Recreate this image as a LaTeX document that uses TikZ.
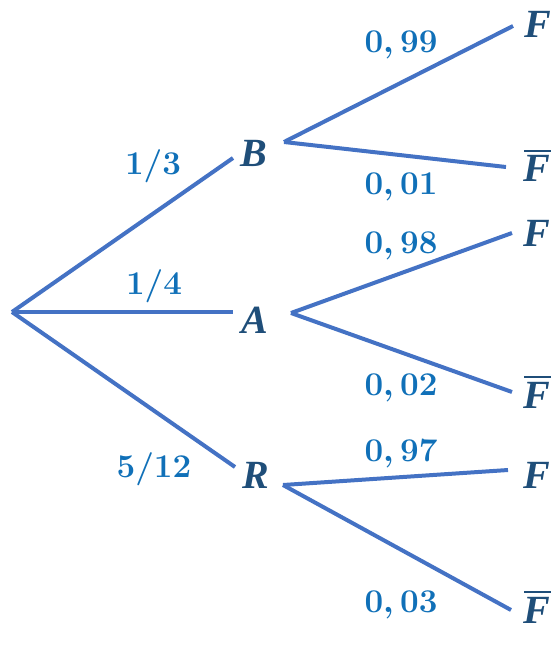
\documentclass[tikz,border=0pt]{standalone}
\usepackage{fontspec}
\usepackage{tikz}
\usetikzlibrary{positioning}
\newfontfamily\evfont{Liberation Serif}
\definecolor{branch}{HTML}{4472C4}
\definecolor{prob}{HTML}{1070B8}
\definecolor{event}{HTML}{1F4E79}
\newcommand{\ev}[1]{{\evfont\bfseries\itshape #1}}
\newcommand{\evbar}[1]{\setbox0\hbox{\ev{#1}}\vbox{\offinterlineskip\hbox{\kern0.5pt\vrule height 2pt width \wd0}\kern2.5pt\box0}}

\begin{document}
\begin{tikzpicture}[x=0.75pt,y=-0.75pt,br/.style={draw=branch, line width=3pt},ev/.style={inner sep=0pt, anchor=base, text=event, font=\fontsize{30}{34}\selectfont\boldmath},pr/.style={inner sep=0pt, anchor=base, text=prob, font=\fontsize{24}{28}\selectfont\boldmath}]
\useasboundingbox (0,0) rectangle (559,648);
% joints of the tree
\coordinate (root) at (12,312);
\coordinate (bIn) at (233,158); \coordinate (aIn) at (233,312); \coordinate (rIn) at (235,467);
\coordinate (bOut) at (284,142); \coordinate (aOut) at (291,313); \coordinate (rOut) at (283,485);
\coordinate (bF) at (513,26); \coordinate (bFb) at (506,167);
\coordinate (aF) at (512,233); \coordinate (aFb) at (512,392);
\coordinate (rF) at (508,470); \coordinate (rFb) at (511,610);
% first level
\node[ev] (B) at (254,167) {\ev{B}};
\node[ev] (A) at (255,333) {\ev{A}};
\node[ev] (R) at (256,488) {\ev{R}};
\draw[br] (root)--(bIn); \draw[br] (root)--(aIn); \draw[br] (root)--(rIn);
\node[pr] (pB) at (153,175) {$1/3$};
\node[pr] (pA) at (154,294) {$1/4$};
\node[pr] (pR) at (154,477) {$5/12$};
% second level
\node[ev] (BF) at (538,38) {\ev{F}}; \node[ev] (BFb) at (537,182) {\evbar{F}};
\node[ev] (AF) at (537,247) {\ev{F}}; \node[ev] (AFb) at (537,408) {\evbar{F}};
\node[ev] (RF) at (537,488) {\ev{F}}; \node[ev] (RFb) at (537,623) {\evbar{F}};
\draw[br] (bOut)--(bF); \draw[br] (bOut)--(bFb);
\draw[br] (aOut)--(aF); \draw[br] (aOut)--(aFb);
\draw[br] (rOut)--(rF); \draw[br] (rOut)--(rFb);
\node[pr] (pBF) at (401,53) {$0,99$}; \node[pr] (pBFb) at (401,195) {$0,01$};
\node[pr] (pAF) at (401,253) {$0,98$}; \node[pr] (pAFb) at (401,395) {$0,02$};
\node[pr] (pRF) at (401,461) {$0,97$}; \node[pr] (pRFb) at (401,612) {$0,03$};
\end{tikzpicture}
\end{document}
